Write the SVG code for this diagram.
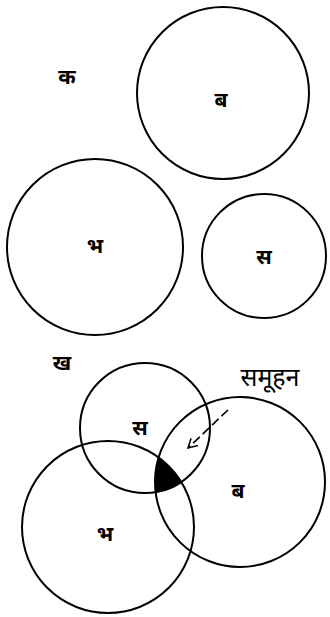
<svg xmlns="http://www.w3.org/2000/svg" width="330" height="617" viewBox="0 0 330 617">
<style>
.c{fill:none;stroke:#000;stroke-width:2}
.t{font-family:"Noto Sans Devanagari","Noto Sans","DejaVu Sans",sans-serif;font-weight:bold;font-size:21px;text-anchor:middle;fill:#000}
.n{font-family:"Noto Sans Devanagari","Noto Sans","DejaVu Sans",sans-serif;font-size:25px;text-anchor:middle;fill:#000}
</style>
<defs>
<clipPath id="clipS"><circle cx="145" cy="428" r="65"/></clipPath>
<clipPath id="clipBh"><circle cx="108" cy="527" r="86"/></clipPath>
<marker id="ah" markerWidth="12" markerHeight="12" refX="10" refY="6" orient="auto" markerUnits="userSpaceOnUse">
<path d="M1,1 L10,6 L1,11" fill="none" stroke="#000" stroke-width="1.5"/>
</marker>
</defs>
<g id="part-ka">
<text class="t" x="67" y="84">क</text>
<g id="ka-ba"><circle class="c" cx="223" cy="93" r="86"/><text class="t" x="221" y="107">ब</text></g>
<g id="ka-bha"><circle class="c" cx="95" cy="247" r="88" stroke-width="2.5"/><text class="t" x="95" y="253">भ</text></g>
<g id="ka-sa"><circle class="c" cx="264" cy="256" r="62"/><text class="t" x="264" y="264">स</text></g>
</g>
<g id="part-kha">
<text class="t" x="62" y="370">ख</text>
<g id="overlap"><g clip-path="url(#clipS)"><circle cx="240" cy="482" r="85" fill="#000" clip-path="url(#clipBh)"/></g></g>
<g id="kha-sa"><circle class="c" cx="145" cy="428" r="65"/><text class="t" x="140" y="435">स</text></g>
<g id="kha-ba"><circle class="c" cx="240" cy="482" r="85" stroke-width="1.6"/><text class="t" x="238" y="498">ब</text></g>
<g id="kha-bha"><circle class="c" cx="108" cy="527" r="86" stroke-width="2.4"/><text class="t" x="105" y="541">भ</text></g>
<g id="label-samuhan"><text class="n" x="270" y="386">समूहन</text></g>
<g id="connectors"><line x1="228" y1="410" x2="188" y2="448" stroke="#000" stroke-width="1.6" stroke-dasharray="9,4" marker-end="url(#ah)"/></g>
</g>
</svg>
